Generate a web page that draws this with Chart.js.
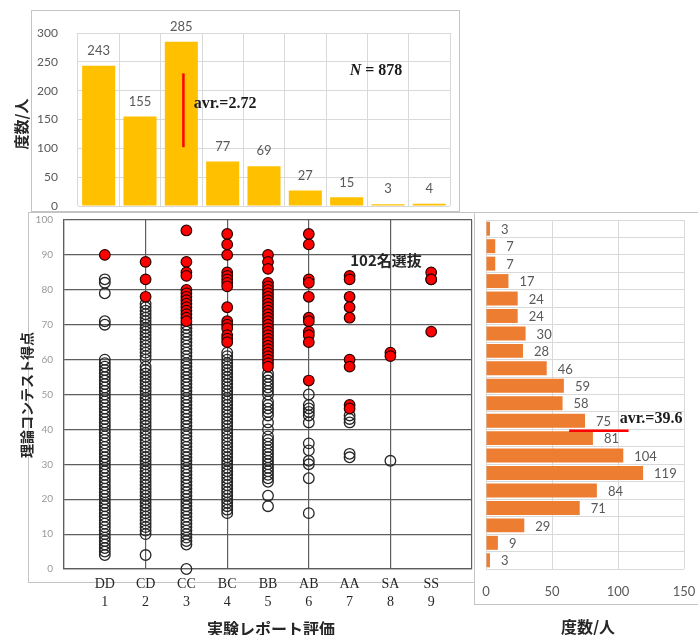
<!DOCTYPE html>
<html>
<head>
<meta charset="utf-8">
<script src="https://cdn.jsdelivr.net/npm/chart.js@4.4.0/dist/chart.umd.min.js"></script>
<style>
  body { margin: 0; background: #fff; }
  #page { position: relative; width: 698px; height: 635px; overflow: hidden; background: #fff; }
  .frame { position: absolute; border: 1px solid #c4c4c4; box-sizing: border-box; }
  .box { position: absolute; }
  .txt { position: absolute; white-space: nowrap; transform: translate(-50%, -50%); }
  .jp { font-family: 'Noto Sans CJK JP', sans-serif; font-weight: 700; color: #262626; }
  .serif { font-family: 'Liberation Serif', serif; font-weight: 700; font-size: 16px; color: #1a1a1a; }
  .rot { transform: translate(-50%, -50%) rotate(-90deg); }
</style>
</head>
<body>
<div id="page">
  <div class="frame" style="left:28px; top:212px; width:447px; height:371px;"></div>
  <div class="frame" style="left:474px; top:212px; width:240px; height:393px;"></div>
  <div class="frame" style="left:31px; top:10px; width:429px; height:202px; background:#fff;"></div>

  <div class="box" style="left:0; top:10px; width:460px; height:202px;"><canvas id="topChart"></canvas></div>
  <div class="box" style="left:0; top:212px; width:480px; height:423px;"><canvas id="scatterChart"></canvas></div>
  <div class="box" style="left:475px; top:212px; width:223px; height:423px;"><canvas id="histChart"></canvas></div>

  <div class="txt jp rot" style="left:20px; top:124px; font-size:15px;">度数/人</div>
  <div class="txt serif" id="nText" style="left:376px; top:70px;"></div>
  <div class="txt serif" id="avrTopText" style="left:225px; top:103px;"></div>
  <div class="txt jp rot" style="left:26px; top:395px; font-size:14px;">理論コンテスト得点</div>
  <div class="txt jp" id="selText" style="left:386px; top:259px; font-size:15px;"></div>
  <div class="txt jp" style="left:271px; top:628px; font-size:16px;">実験レポート評価</div>
  <div class="txt jp" style="left:588px; top:626px; font-size:16px;">度数/人</div>
  <div class="txt serif" id="avrRightText" style="left:651px; top:418px;"></div>
</div>

<script>
// 実験レポート評価
var grades = ['DD', 'CD', 'CC', 'BC', 'BB', 'AB', 'AA', 'SA', 'SS'];
var gradeNo = [1, 2, 3, 4, 5, 6, 7, 8, 9];
var gradeCounts = [243, 155, 285, 77, 69, 27, 15, 3, 4];

// 理論コンテスト得点 histogram (5 point bins, low -> high)
var scoreBins = ['0-5', '5-10', '10-15', '15-20', '20-25', '25-30', '30-35', '35-40', '40-45', '45-50',
                 '50-55', '55-60', '60-65', '65-70', '70-75', '75-80', '80-85', '85-90', '90-95', '95-100'];
var binCounts = [3, 9, 29, 71, 84, 119, 104, 81, 75, 58, 59, 46, 28, 30, 24, 24, 17, 7, 7, 3];
var binWidth = 5;

var totalN = 878;
var selectedN = 102;
var avrGrade = 2.72;
var avrScore = 39.6;

// red marker lines (data units)
var avrTopLine = { x1: 2.05, y1: 102, x2: 2.05, y2: 230 };
var avrRightLine = { x1: 63, x2: 108 };

// scores per grade: selected (red)
var selDD = [90];
var selCD = [88, 83, 78];
var selCC = [97, 88, 85, 84, 80, 79, 78, 77, 76, 75, 74, 73, 72, 71];
var selBC = [96, 93, 90, 85, 84, 83, 82, 81, 75, 71, 70, 69, 67, 66, 65];
var selBB = [90, 88, 86, 82, 81, 80, 79, 78, 77, 76, 75, 74, 73, 72, 71, 70, 69, 68, 67, 66, 65, 64, 63, 62, 61, 60, 59, 58];
var selAB = [96, 93, 83, 82, 78, 72, 71, 68, 67, 65, 54];
var selAA = [84, 83, 78, 75, 72, 60, 58, 47, 46];
var selSA = [62, 61];
var selSS = [85, 83, 83, 68];

// scores per grade: not selected (open)
var othDD = [83, 82, 79, 71, 70, 60, 59, 58, 57, 56, 55, 54, 53, 52, 51, 50, 49, 48, 47, 46, 45, 44, 43, 42, 41,
             40, 39, 38, 37, 36, 35, 34, 33, 32, 31, 30, 29, 28, 27, 26, 25, 24, 23, 22, 21, 20, 19, 18, 17, 16,
             15, 14, 13, 12, 11, 10, 9, 8, 7, 6, 5, 4];
var othCD = [76, 75, 74, 73, 72, 71, 70, 69, 68, 67, 66, 65, 64, 63, 62, 61, 60, 58, 57, 56, 55, 54, 53, 52, 51,
             50, 49, 48, 47, 46, 45, 44, 43, 42, 41, 40, 39, 38, 37, 36, 35, 34, 33, 32, 31, 30, 29, 28, 27, 26,
             25, 24, 23, 22, 21, 20, 19, 18, 17, 16, 15, 14, 13, 12, 11, 10, 4];
var othCC = [70, 69, 68, 67, 66, 65, 64, 63, 62, 61, 60, 59, 58, 57, 56, 55, 54, 53, 52, 51, 50, 49, 48, 47, 46,
             45, 44, 43, 42, 41, 40, 39, 38, 37, 36, 35, 34, 33, 32, 31, 30, 29, 28, 27, 26, 25, 24, 23, 22, 21,
             20, 19, 18, 17, 16, 15, 14, 13, 12, 11, 10, 9, 8, 7, 0];
var othBC = [62, 61, 60, 59, 58, 57, 56, 55, 54, 53, 52, 51, 50, 49, 48, 47, 46, 45, 44, 43, 42, 41, 40, 39, 38,
             37, 36, 35, 34, 33, 32, 31, 30, 29, 28, 27, 26, 25, 24, 23, 22, 21, 20, 19, 18, 17, 16];
var othBB = [56, 55, 54, 53, 52, 51, 50, 48, 47, 46, 45, 44, 42, 40, 38, 37, 36, 35, 34, 33, 32, 31, 30, 29, 28,
             27, 26, 25, 21, 18];
var othAB = [50, 47, 46, 45, 44, 42, 36, 34, 31, 30, 26, 16];
var othAA = [44, 43, 42, 33, 32];
var othSA = [31];
var othSS = [];

var selByGrade = [selDD, selCD, selCC, selBC, selBB, selAB, selAA, selSA, selSS];
var othByGrade = [othDD, othCD, othCC, othBC, othBB, othAB, othAA, othSA, othSS];

function toPoints(lists) {
    var pts = [];
    lists.forEach(function (scores, i) {
        scores.forEach(function (s) { pts.push({ x: gradeNo[i], y: s }); });
    });
    return pts;
}

document.getElementById('nText').innerHTML = '<i>N</i> = ' + totalN;
document.getElementById('avrTopText').textContent = 'avr.=' + avrGrade.toFixed(2);
document.getElementById('avrRightText').textContent = 'avr.=' + avrScore.toFixed(1);
document.getElementById('selText').textContent = selectedN + '名選抜';

// numbers next to the bars
var valueLabels = {
    id: 'valueLabels',
    afterDatasetsDraw: function (chart, args, opts) {
        var ctx = chart.ctx;
        var meta = chart.getDatasetMeta(0);
        var data = chart.data.datasets[0].data;
        ctx.save();
        ctx.font = '13px Lato';
        ctx.fillStyle = '#595959';
        ctx.textBaseline = 'middle';
        meta.data.forEach(function (bar, i) {
            if (opts.horizontal) {
                ctx.textAlign = 'left';
                ctx.fillText(data[i], bar.x + 11, bar.y + 1);
            } else {
                ctx.textAlign = 'center';
                ctx.fillText(data[i], bar.x, bar.y - 15);
            }
        });
        ctx.restore();
    }
};

// red average marker
var avrLine = {
    id: 'avrLine',
    afterDatasetsDraw: function (chart, args, o) {
        var ctx = chart.ctx;
        ctx.save();
        ctx.strokeStyle = '#ff0000';
        ctx.lineWidth = o.width;
        ctx.beginPath();
        ctx.moveTo(chart.scales.x.getPixelForValue(o.x1), chart.scales.y.getPixelForValue(o.y1));
        ctx.lineTo(chart.scales.x.getPixelForValue(o.x2), chart.scales.y.getPixelForValue(o.y2));
        ctx.stroke();
        ctx.restore();
    }
};

var lightGrid = '#d9d9d9';
var darkGrid = '#5e5e5e';
var noColor = 'rgba(0,0,0,0)';

new Chart(document.getElementById('topChart'), {
    type: 'bar',
    data: {
        labels: grades,
        datasets: [{
            data: gradeCounts,
            backgroundColor: '#ffc000',
            barPercentage: 0.8,
            categoryPercentage: 1
        }]
    },
    options: {
        responsive: true,
        maintainAspectRatio: false,
        animation: false,
        layout: { padding: { left: 0, right: 10, top: 23, bottom: 6 } },
        plugins: {
            legend: { display: false },
            tooltip: { enabled: false },
            valueLabels: { horizontal: false },
            avrLine: { x1: avrTopLine.x1, y1: avrTopLine.y1, x2: avrTopLine.x2, y2: avrTopLine.y2, width: 2.5 }
        },
        scales: {
            x: {
                afterFit: function (s) { s.height = 0; },
                ticks: { display: false },
                grid: { color: lightGrid, drawTicks: false },
                border: { display: false }
            },
            y: {
                min: 0,
                max: 300,
                afterFit: function (s) { s.width = 78; },
                ticks: { stepSize: 50, padding: 0, color: '#595959', font: { family: 'Lato', size: 12, lineHeight: 1 } },
                grid: { color: lightGrid, tickLength: 20, tickColor: noColor },
                border: { display: false }
            }
        }
    },
    plugins: [valueLabels, avrLine]
});

new Chart(document.getElementById('scatterChart'), {
    type: 'scatter',
    data: {
        datasets: [
            {
                label: '選抜',
                data: toPoints(selByGrade),
                order: 0,
                clip: false,
                pointRadius: 5.3,
                pointBackgroundColor: '#ff0000',
                pointBorderColor: '#2a0000',
                pointBorderWidth: 1.2
            },
            {
                label: 'その他',
                data: toPoints(othByGrade),
                order: 1,
                clip: false,
                pointRadius: 5.3,
                pointBackgroundColor: 'rgba(255,255,255,0)',
                pointBorderColor: '#262626',
                pointBorderWidth: 1.3
            }
        ]
    },
    options: {
        responsive: true,
        maintainAspectRatio: false,
        animation: false,
        layout: { padding: { left: 0, right: 8, top: 8, bottom: 0 } },
        plugins: { legend: { display: false }, tooltip: { enabled: false } },
        scales: {
            x: {
                type: 'linear',
                min: 0,
                max: 10,
                afterFit: function (s) { s.height = 66; },
                ticks: {
                    stepSize: 1,
                    autoSkip: false,
                    maxRotation: 0,
                    padding: 0,
                    color: '#262626',
                    font: { family: 'Liberation Serif', size: 14, lineHeight: 1.3 },
                    callback: function (v) {
                        return (v >= 1 && v <= 9) ? [grades[v - 1], String(gradeNo[v - 1])] : '';
                    }
                },
                grid: {
                    color: function (c) { return c.tick && c.tick.value % 2 === 0 ? darkGrid : noColor; },
                    lineWidth: 1.2,
                    tickLength: 6,
                    tickColor: noColor
                },
                border: { color: darkGrid, width: 1.2 }
            },
            y: {
                min: 0,
                max: 100,
                afterFit: function (s) { s.width = 64; },
                ticks: { stepSize: 10, padding: 0, color: '#999999', font: { family: 'Lato', size: 10, lineHeight: 1 } },
                grid: { color: darkGrid, lineWidth: 1.2, tickLength: 11, tickColor: noColor },
                border: { color: darkGrid, width: 1.2 }
            }
        }
    }
});

new Chart(document.getElementById('histChart'), {
    type: 'bar',
    data: {
        labels: scoreBins,
        datasets: [{
            data: binCounts,
            backgroundColor: '#ed7d31',
            barPercentage: 0.8,
            categoryPercentage: 1
        }]
    },
    options: {
        indexAxis: 'y',
        responsive: true,
        maintainAspectRatio: false,
        animation: false,
        layout: { padding: { left: 11, right: 14, top: 8, bottom: 0 } },
        plugins: {
            legend: { display: false },
            tooltip: { enabled: false },
            valueLabels: { horizontal: true },
            avrLine: {
                x1: avrRightLine.x1, x2: avrRightLine.x2,
                y1: avrScore / binWidth - 0.5, y2: avrScore / binWidth - 0.5,
                width: 2.5
            }
        },
        scales: {
            x: {
                min: 0,
                max: 150,
                afterFit: function (s) { s.height = 66; },
                ticks: { stepSize: 50, padding: 0, color: '#595959', font: { family: 'Lato', size: 13 } },
                grid: { color: lightGrid, tickLength: 15, tickColor: noColor },
                border: { display: false }
            },
            y: {
                reverse: true,
                afterFit: function (s) { s.width = 0; },
                ticks: { display: false },
                grid: { color: lightGrid, drawTicks: false },
                border: { display: false }
            }
        }
    },
    plugins: [valueLabels, avrLine]
});
</script>
</body>
</html>
